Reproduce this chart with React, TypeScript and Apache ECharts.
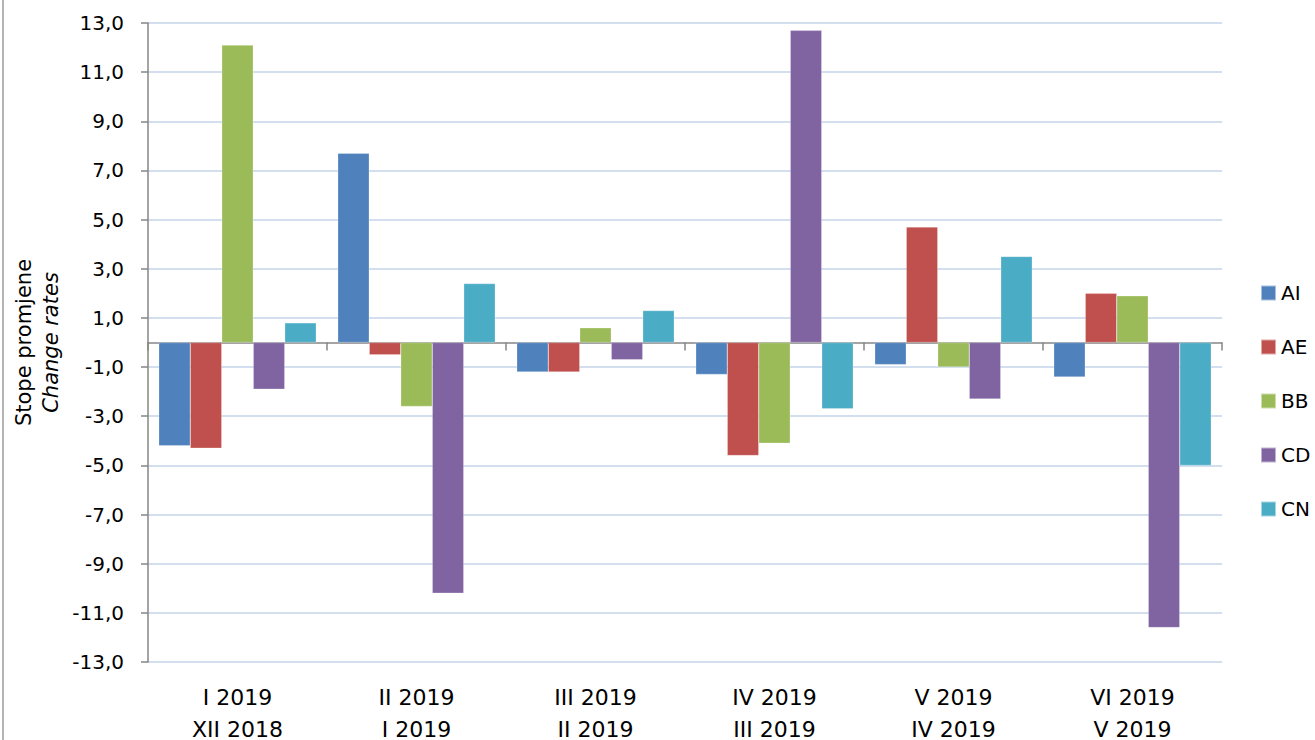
import React, { useEffect, useRef } from "react";
import * as echarts from "echarts";

const categories = ["I 2019\nXII 2018", "II 2019\nI 2019", "III 2019\nII 2019", "IV 2019\nIII 2019", "V 2019\nIV 2019", "VI 2019\nV 2019"];
const seriesNames = ["AI", "AE", "BB", "CD", "CN"];
const valuesAI = [-4.2, 7.7, -1.2, -1.3, -0.9, -1.4];
const valuesAE = [-4.3, -0.5, -1.2, -4.6, 4.7, 2.0];
const valuesBB = [12.1, -2.6, 0.6, -4.1, -1.0, 1.9];
const valuesCD = [-1.9, -10.2, -0.7, 12.7, -2.3, -11.6];
const valuesCN = [0.8, 2.4, 1.3, -2.7, 3.5, -5.0];
const colors = ["#4F81BD", "#C0504D", "#9BBB59", "#8064A2", "#4BACC6"];

const FONT = "'DejaVu Sans', 'Open Sans', sans-serif";

export default function App() {
  const ref = useRef<HTMLDivElement>(null);
  useEffect(() => {
    if (!ref.current) return;
    const chart = echarts.init(ref.current, null, { renderer: "svg" });
    const all = [valuesAI, valuesAE, valuesBB, valuesCD, valuesCN];
    chart.setOption({
      animation: false,
      backgroundColor: "#ffffff",
      textStyle: { fontFamily: FONT, fontWeight: "normal" },
      grid: { left: 148, right: 93, top: 23, bottom: 78, containLabel: false, outerBoundsMode: "none" },
      legend: {
        orient: "vertical",
        left: 1260,
        top: 283,
        padding: 0,
        itemWidth: 15,
        itemHeight: 15,
        itemGap: 34,
        icon: "rect",
        textStyle: { fontSize: 20, color: "#000", fontFamily: FONT, fontWeight: "normal", lineHeight: 15 },
        data: seriesNames,
      },
      xAxis: [
        {
          type: "category",
          data: categories,
          position: "bottom",
          axisLine: { show: false, onZero: false },
          axisTick: { show: false },
          axisLabel: {
            show: true,
            fontSize: 22,
            color: "#000",
            fontFamily: FONT,
            fontWeight: "normal",
            lineHeight: 32,
            margin: 19,
          },
          splitLine: { show: false },
        },
        {
          type: "category",
          data: categories,
          position: "bottom",
          axisLine: { show: true, onZero: true, lineStyle: { color: "#868686", width: 1.5 } },
          axisTick: { show: true, length: 8, lineStyle: { color: "#868686", width: 1.5 } },
          axisLabel: { show: false },
          splitLine: { show: false },
        },
      ],
      yAxis: {
        type: "value",
        min: -13,
        max: 13,
        interval: 2,
        name: "{a|Stope promjene}\n{b|Change rates}",
        nameLocation: "middle",
        nameRotate: 90,
        nameGap: 80,
        nameTextStyle: {
          rich: {
            a: { fontSize: 21, color: "#000", fontFamily: FONT, fontWeight: "normal", lineHeight: 27 },
            b: { fontSize: 21, color: "#000", fontFamily: FONT, fontWeight: "normal", fontStyle: "italic", lineHeight: 27 },
          },
        },
        axisLine: { show: true, lineStyle: { color: "#868686", width: 1.5 } },
        axisTick: { show: true, length: 7, lineStyle: { color: "#868686", width: 1.5 } },
        axisLabel: {
          fontSize: 20,
          color: "#000",
          fontFamily: FONT,
          fontWeight: "normal",
          margin: 24,
          formatter: (v: number) => v.toFixed(1).replace(".", ","),
        },
        splitLine: { show: true, lineStyle: { color: "#C5D5E9", width: 1.5 } },
      },
      series: seriesNames.map((n, i) => ({
        name: n,
        type: "bar",
        data: all[i],
        xAxisIndex: 0,
        barGap: "0%",
        barCategoryGap: "12%",
        itemStyle: { color: colors[i], borderColor: "rgba(255,255,255,0.5)", borderWidth: 0.5 },
      })),
      graphic: [
        {
          type: "line",
          shape: { x1: 3, y1: 0, x2: 3, y2: 740 },
          style: { stroke: "#9a9a9a", lineWidth: 1.5 },
        },
      ],
    });
    return () => chart.dispose();
  }, []);
  return <div ref={ref} style={{ position: "absolute", left: 0, top: 0, width: 1315, height: 740 }} />;
}
